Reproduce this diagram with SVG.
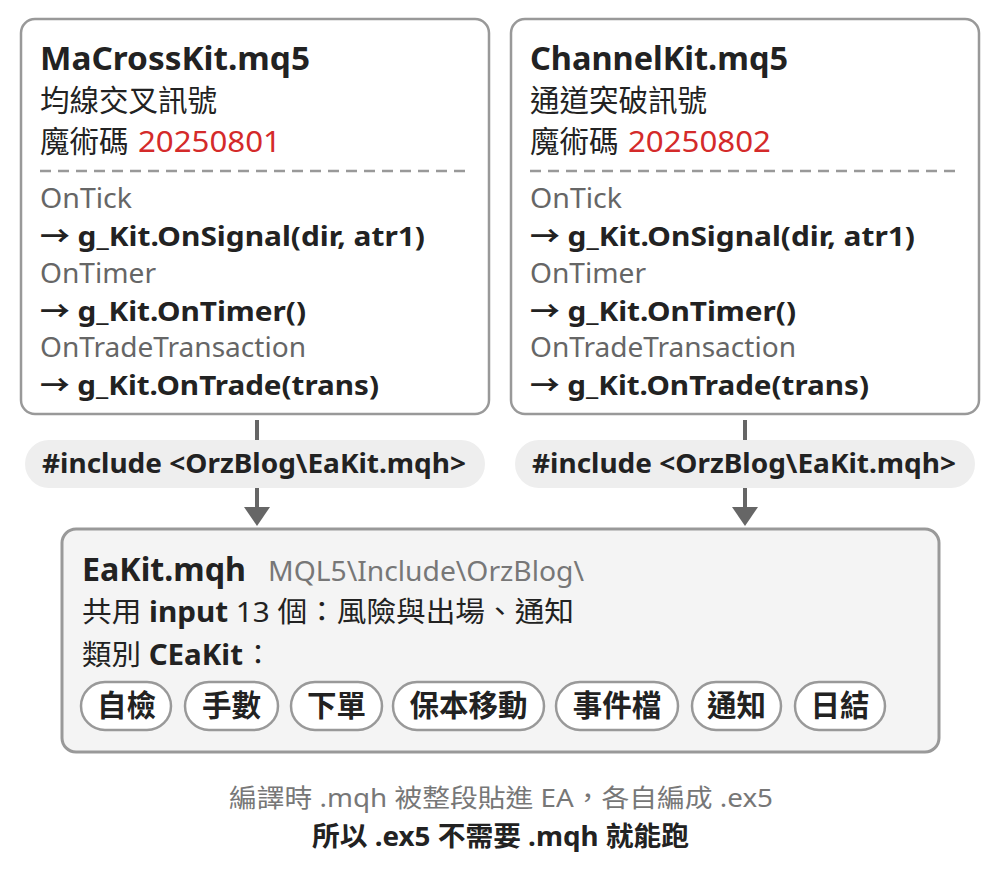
<svg xmlns="http://www.w3.org/2000/svg" width="1000" height="876" viewBox="0 0 1000 876">
<defs>
<style>
text{font-family:"Noto Sans","Noto Sans CJK TC",sans-serif;fill:#222;}
.box{fill:#fff;stroke:#999;stroke-width:2.5;}
.main{fill:#f4f4f4;stroke:#999;stroke-width:3;}
.title{font-size:33px;font-weight:700;}
.sub{font-size:29.5px;}
.ev{font-size:27px;fill:#666;}
.call{font-size:27px;font-weight:700;}
.red{fill:#d42a2a;}
.dash{stroke:#999;stroke-width:2.5;stroke-dasharray:11 7;}
.pill{fill:#eee;}
.pilltxt{font-size:26px;font-weight:700;}
.chip{fill:#fff;stroke:#999;stroke-width:2.5;}
.chiptxt{font-size:29.5px;font-weight:700;text-anchor:middle;}
.path{font-size:27px;fill:#777;}
.body{font-size:28px;}
.b{font-weight:700;}
.note{font-size:25px;fill:#777;}
.note2{font-size:27px;font-weight:700;}
.conn{stroke:#666;stroke-width:4;fill:none;}
.head{fill:#666;}
</style>
</defs>
<g id="connectors">
<line class="conn" x1="257" y1="420" x2="257" y2="510"/>
<polygon class="head" points="244,507 270,507 257,526"/>
<line class="conn" x1="745" y1="420" x2="745" y2="510"/>
<polygon class="head" points="732,507 758,507 745,526"/>
</g>
<g id="macrosskit">
<rect class="box" x="21" y="19" width="468" height="395" rx="14"/>
<text class="title" x="40" y="70" textLength="270" lengthAdjust="spacingAndGlyphs">MaCrossKit.mq5</text>
<text class="sub" x="40" y="111">均線交叉訊號</text>
<text class="sub" x="40" y="152">魔術碼</text>
<text class="sub red" x="138" y="152" textLength="143" lengthAdjust="spacingAndGlyphs">20250801</text>
<line class="dash" x1="40" y1="171" x2="466" y2="171"/>
<text class="ev" x="40" y="208" textLength="92" lengthAdjust="spacingAndGlyphs">OnTick</text>
<text class="call" x="40" y="246" textLength="385" lengthAdjust="spacingAndGlyphs">→ g_Kit.OnSignal(dir, atr1)</text>
<text class="ev" x="40" y="283" textLength="116" lengthAdjust="spacingAndGlyphs">OnTimer</text>
<text class="call" x="40" y="321" textLength="266" lengthAdjust="spacingAndGlyphs">→ g_Kit.OnTimer()</text>
<text class="ev" x="40" y="357" textLength="266" lengthAdjust="spacingAndGlyphs">OnTradeTransaction</text>
<text class="call" x="40" y="395" textLength="339" lengthAdjust="spacingAndGlyphs">→ g_Kit.OnTrade(trans)</text>
</g>
<g id="channelkit">
<rect class="box" x="511" y="19" width="468" height="395" rx="14"/>
<text class="title" x="530" y="70" textLength="258" lengthAdjust="spacingAndGlyphs">ChannelKit.mq5</text>
<text class="sub" x="530" y="111">通道突破訊號</text>
<text class="sub" x="530" y="152">魔術碼</text>
<text class="sub red" x="628" y="152" textLength="143" lengthAdjust="spacingAndGlyphs">20250802</text>
<line class="dash" x1="530" y1="171" x2="956" y2="171"/>
<text class="ev" x="530" y="208" textLength="92" lengthAdjust="spacingAndGlyphs">OnTick</text>
<text class="call" x="530" y="246" textLength="385" lengthAdjust="spacingAndGlyphs">→ g_Kit.OnSignal(dir, atr1)</text>
<text class="ev" x="530" y="283" textLength="116" lengthAdjust="spacingAndGlyphs">OnTimer</text>
<text class="call" x="530" y="321" textLength="266" lengthAdjust="spacingAndGlyphs">→ g_Kit.OnTimer()</text>
<text class="ev" x="530" y="357" textLength="266" lengthAdjust="spacingAndGlyphs">OnTradeTransaction</text>
<text class="call" x="530" y="395" textLength="339" lengthAdjust="spacingAndGlyphs">→ g_Kit.OnTrade(trans)</text>
</g>
<g id="include-left">
<rect class="pill" x="25" y="440" width="460" height="48" rx="24"/>
<text class="pilltxt" x="42" y="473" textLength="424" lengthAdjust="spacingAndGlyphs">#include &lt;OrzBlog\EaKit.mqh&gt;</text>
</g>
<g id="include-right">
<rect class="pill" x="515" y="440" width="460" height="48" rx="24"/>
<text class="pilltxt" x="532" y="473" textLength="424" lengthAdjust="spacingAndGlyphs">#include &lt;OrzBlog\EaKit.mqh&gt;</text>
</g>
<g id="eakit">
<rect class="main" x="62" y="529" width="877" height="223" rx="14"/>
<text class="title" x="82" y="581" textLength="164" lengthAdjust="spacingAndGlyphs">EaKit.mqh</text>
<text class="path" x="268" y="581" textLength="316" lengthAdjust="spacingAndGlyphs">MQL5\Include\OrzBlog\</text>
<text class="body" x="82" y="622" textLength="492" lengthAdjust="spacingAndGlyphs">共用 <tspan class="b">input</tspan> 13 個：風險與出場、通知</text>
<text class="body" x="82" y="665" textLength="161" lengthAdjust="spacingAndGlyphs">類別 <tspan class="b">CEaKit</tspan></text>
<text class="body" x="244" y="665">：</text>
<rect class="chip" x="81" y="682" width="90" height="48" rx="24"/>
<text class="chiptxt" x="126.5" y="716">自檢</text>
<rect class="chip" x="185" y="682" width="93" height="48" rx="24"/>
<text class="chiptxt" x="231.5" y="716">手數</text>
<rect class="chip" x="291" y="682" width="91" height="48" rx="24"/>
<text class="chiptxt" x="336.5" y="716">下單</text>
<rect class="chip" x="393" y="682" width="151" height="48" rx="24"/>
<text class="chiptxt" x="468.5" y="716">保本移動</text>
<rect class="chip" x="556" y="682" width="122" height="48" rx="24"/>
<text class="chiptxt" x="617" y="716">事件檔</text>
<rect class="chip" x="692" y="682" width="89" height="48" rx="24"/>
<text class="chiptxt" x="736.5" y="716">通知</text>
<rect class="chip" x="795" y="682" width="90" height="48" rx="24"/>
<text class="chiptxt" x="840" y="716">日結</text>
</g>
<g id="notes">
<text class="note" x="229" y="807" textLength="544" lengthAdjust="spacingAndGlyphs">編譯時 .mqh 被整段貼進 EA，各自編成 .ex5</text>
<text class="note2" x="312" y="846" textLength="377" lengthAdjust="spacingAndGlyphs">所以 .ex5 不需要 .mqh 就能跑</text>
</g>
</svg>
